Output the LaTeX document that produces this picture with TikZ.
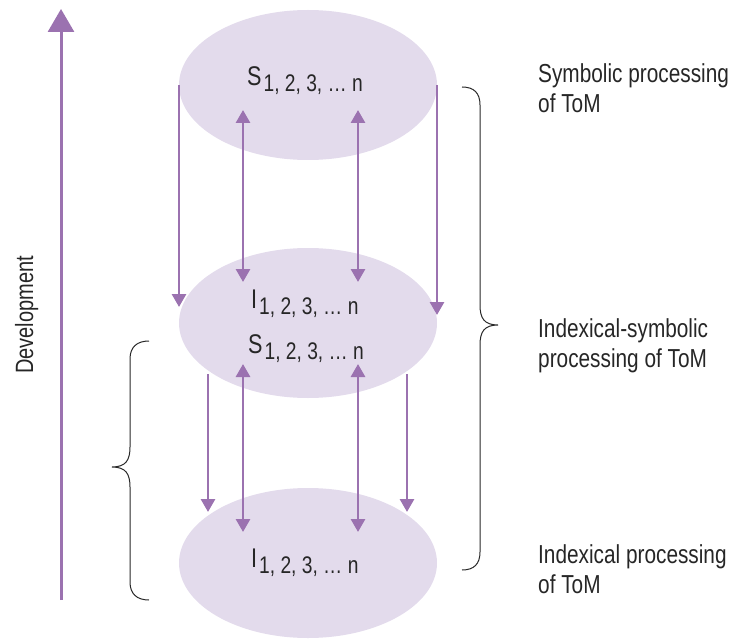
\documentclass[tikz,border=0pt]{standalone}
\usepackage{fontspec}
\setmainfont[FakeStretch=0.8]{Liberation Sans}
\usetikzlibrary{shapes.geometric,arrows.meta}
\definecolor{arrowc}{RGB}{155,114,176}
\definecolor{ellc}{RGB}{227,219,236}
\definecolor{bracec}{RGB}{40,40,40}
\newcommand{\lev}[1]{#1\hspace{2pt}\raisebox{-6pt}{\fontsize{24}{24}\selectfont 1, 2, 3, \dots\ n}}
\begin{document}
\begin{tikzpicture}[x=1pt,y=-1pt,
  ell/.style={ellipse,fill=ellc,draw=none,minimum width=258pt,minimum height=150pt,inner sep=0pt},
  lvl/.style={inner sep=0pt,anchor=base west,font=\fontsize{27}{30}\selectfont,text=black!85},
  lbl/.style={inner sep=0pt,anchor=base west,align=left,font=\fontsize{26}{30}\selectfont,text=black!85},
  dn/.style={draw=arrowc,line width=2.8pt,-{Triangle[width=14pt,length=13pt]}},
  bi/.style={draw=arrowc,line width=2.8pt,{Triangle[width=14pt,length=13pt]}-{Triangle[width=14pt,length=13pt]}},
  dev/.style={draw=arrowc,line width=3pt,-{Triangle[width=26pt,length=23pt]}},
  brace/.style={draw=bracec,line width=1pt}]
\useasboundingbox (0,0) rectangle (733,639);
% ellipses
\node[ell] (top) at (308,85) {};
\node[ell] (mid) at (308,323) {};
\node[ell] (bot) at (308,563) {};
% texts
\node[lvl] (ts) at (247,86) {\lev{S}};
\node[lvl] (mi) at (251,308) {\lev{I}};
\node[lvl] (ms) at (248,353) {\lev{S}};
\node[lvl] (bi) at (251,567) {\lev{I}};
% coordinates
\coordinate (a1s) at (179,85);  \coordinate (a1e) at (179,307);
\coordinate (a2s) at (437,85);  \coordinate (a2e) at (437,315);
\coordinate (a3s) at (243,110); \coordinate (a3e) at (243,282);
\coordinate (a4s) at (358,110); \coordinate (a4e) at (358,282);
\coordinate (a5s) at (208,374); \coordinate (a5e) at (208,512);
\coordinate (a6s) at (407,374); \coordinate (a6e) at (407,512);
\coordinate (a7s) at (243,364); \coordinate (a7e) at (243,532);
\coordinate (a8s) at (358,364); \coordinate (a8e) at (358,532);
\coordinate (ds) at (61,600); \coordinate (de) at (61,9);
% arrows
\draw[dn] (a1s) -- (a1e);
\draw[dn] (a2s) -- (a2e);
\draw[bi] (a3s) -- (a3e);
\draw[bi] (a4s) -- (a4e);
\draw[dn] (a5s) -- (a5e);
\draw[dn] (a6s) -- (a6e);
\draw[bi] (a7s) -- (a7e);
\draw[bi] (a8s) -- (a8e);
\draw[dev] (ds) -- (de);
\node[rotate=90,anchor=base,inner sep=0pt,font=\fontsize{25}{30}\selectfont,text=black!85] (devl) at (33,315) {Development};
% braces
\draw[brace] (462,87) .. controls (474,87) and (480,93) .. (480,105) -- (480,305)
  .. controls (480,318) and (484,325) .. (498,325)
  .. controls (484,325) and (480,332) .. (480,345) -- (480,552)
  .. controls (480,564) and (474,570) .. (462,570);
\draw[brace] (149,341) .. controls (137,341) and (130,347) .. (130,359) -- (130,447)
  .. controls (130,460) and (126,467) .. (112,467)
  .. controls (126,467) and (130,474) .. (130,487) -- (130,582)
  .. controls (130,594) and (137,600) .. (149,600);
% labels (base anchor = last line)
\node[lbl] (l1) at (538,113) {Symbolic processing\\of ToM};
\node[lbl] (l2) at (538,367) {Indexical-symbolic\\processing of ToM};
\node[lbl] (l3) at (538,593) {Indexical processing\\of ToM};
\end{tikzpicture}
\end{document}
